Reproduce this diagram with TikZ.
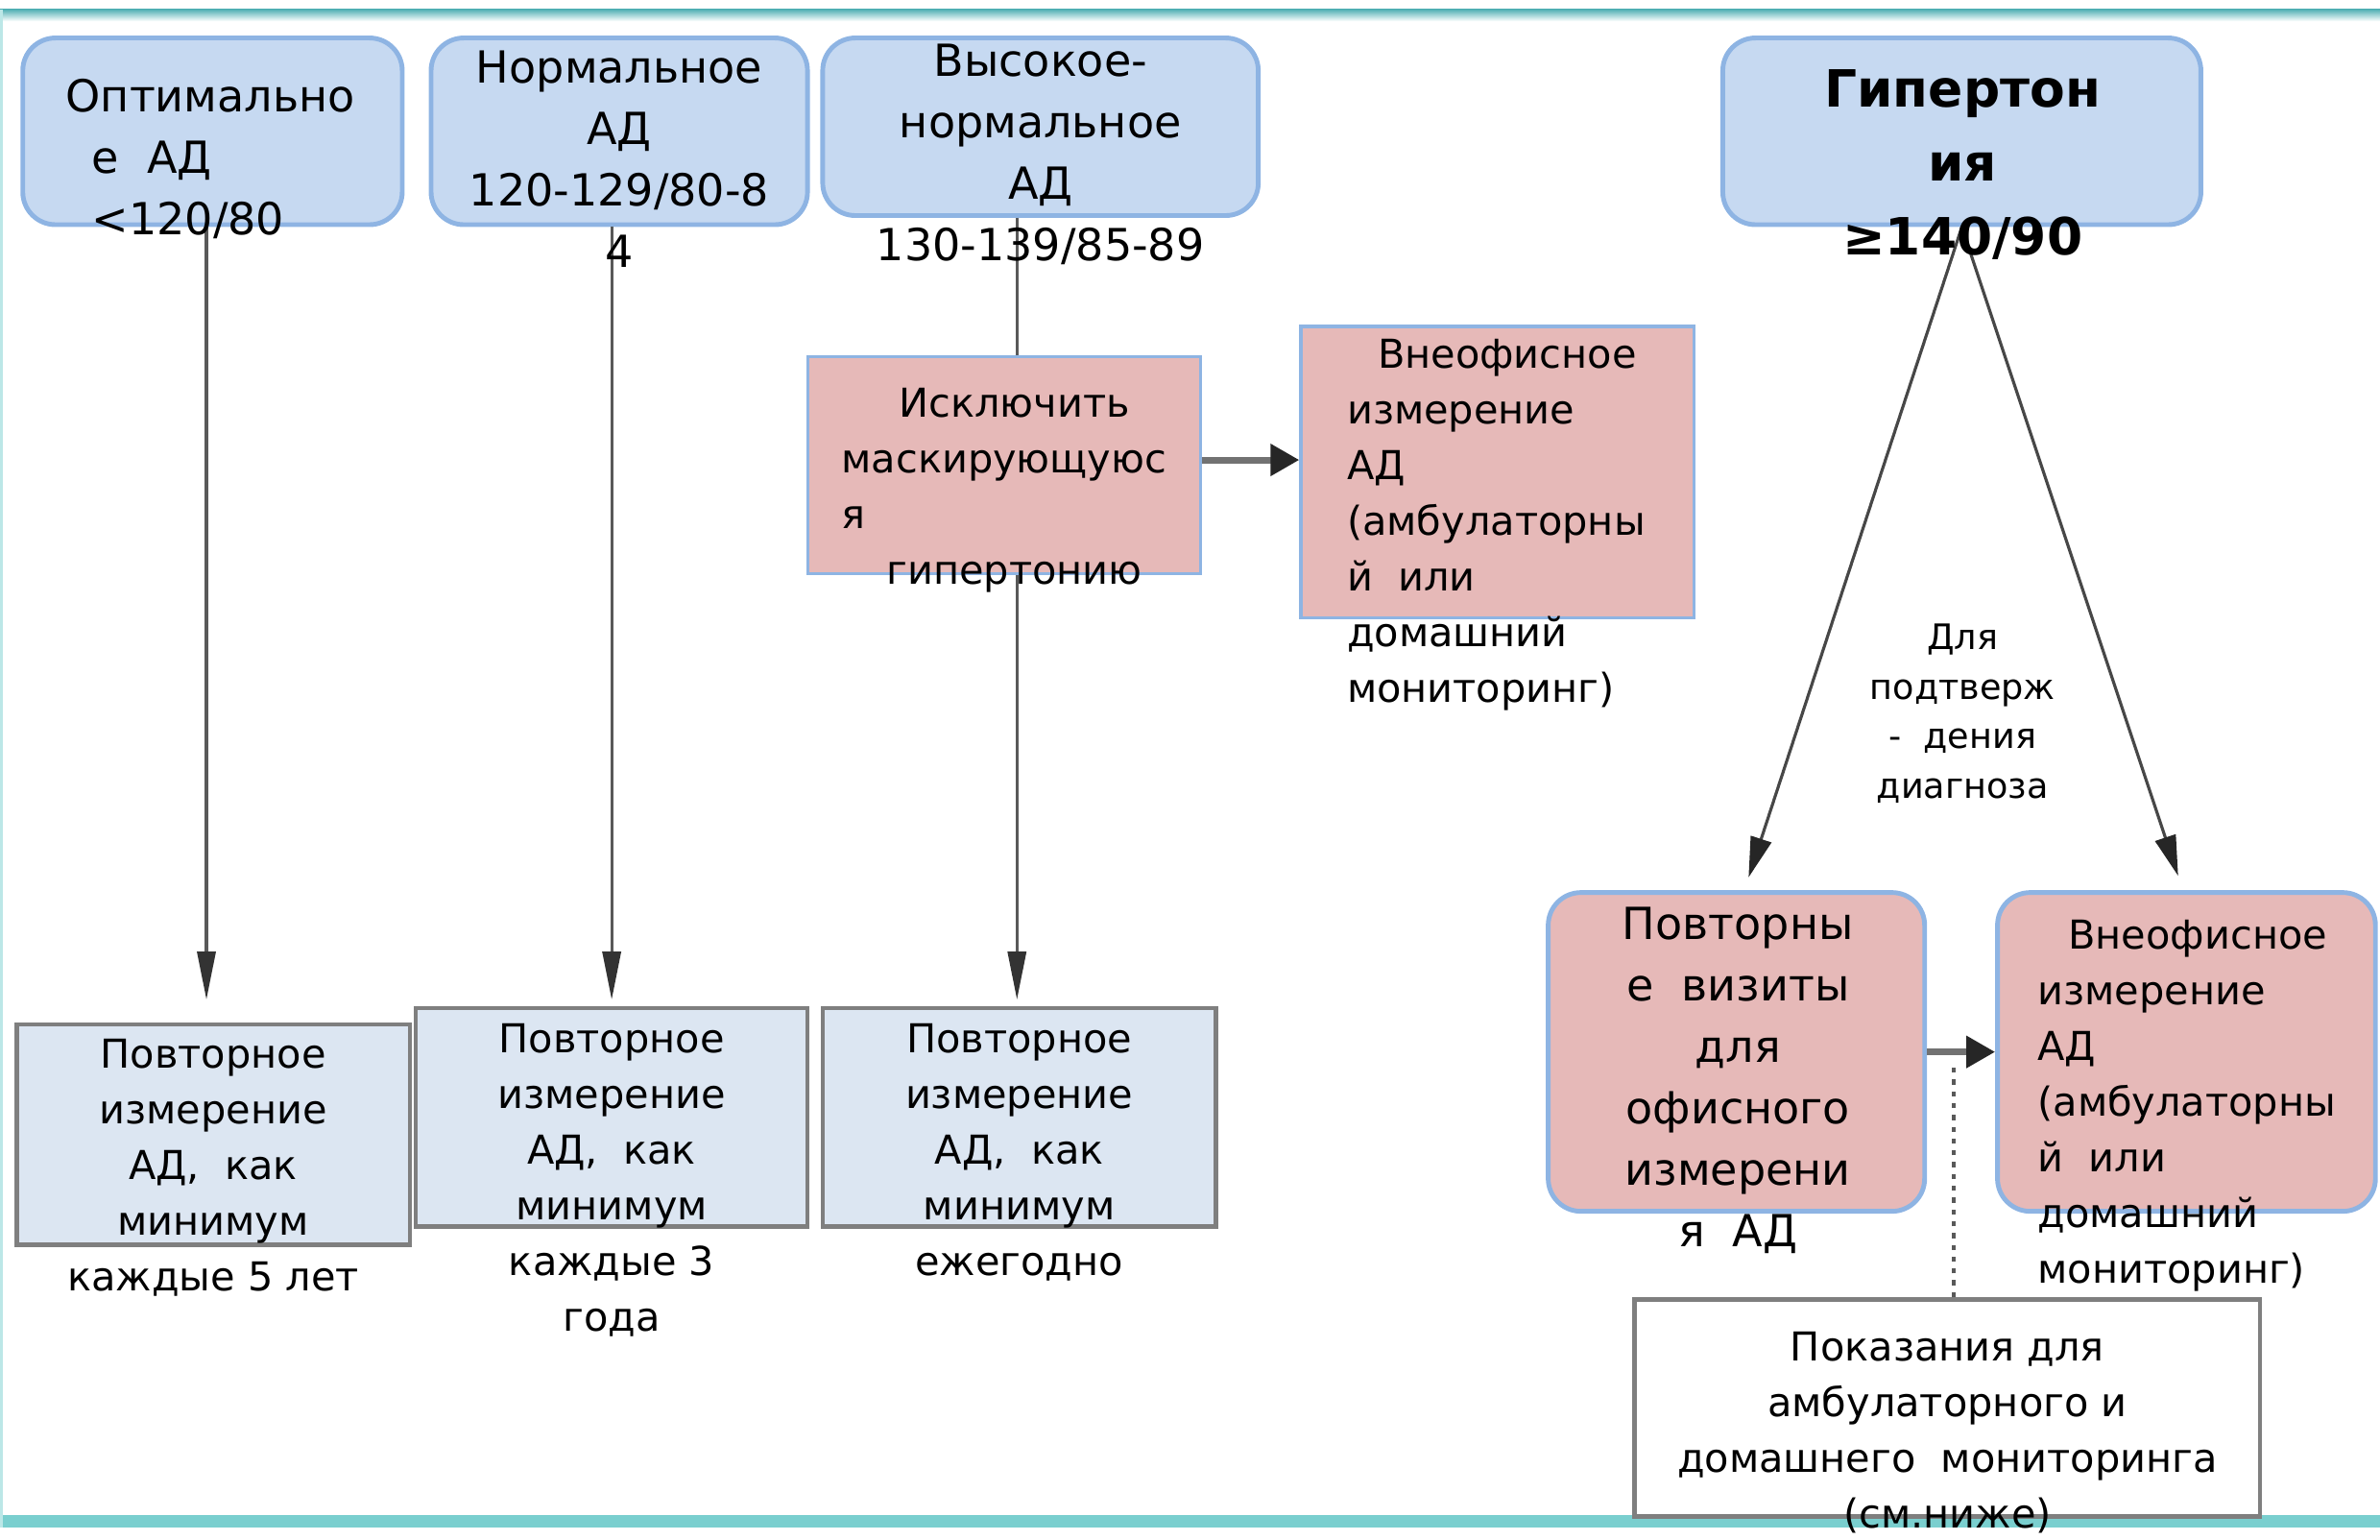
\documentclass[tikz,border=0pt]{standalone}
\usepackage{fontspec}
\setmainfont{DejaVu Sans}
\usetikzlibrary{arrows.meta}

\definecolor{azulRelleno}{HTML}{C6D9F1}
\definecolor{azulBorde}{HTML}{8EB4E3}
\definecolor{rosaRelleno}{HTML}{E6B9B8}
\definecolor{grisRelleno}{HTML}{DCE6F2}
\definecolor{grisBorde}{HTML}{7F7F7F}
\definecolor{grisLinea}{HTML}{595959}
\definecolor{tealOscuro}{HTML}{4FAFB3}
\definecolor{tealClaro}{HTML}{7ACFCF}

\newcommand{\px}{0.01581cm}

\tikzset{
  cajaazul/.style={draw=azulBorde, line width=1.4pt, fill=azulRelleno, rounded corners=0.34cm},
  cajarosa/.style={draw=azulBorde, line width=1.4pt, fill=rosaRelleno, rounded corners=0.34cm},
  rectrosa/.style={draw=azulBorde, line width=0.9pt, fill=rosaRelleno},
  cajagris/.style={draw=grisBorde, line width=1.3pt, fill=grisRelleno},
  cajablanca/.style={draw=grisBorde, line width=1.3pt, fill=white},
  texto/.style={inner sep=0pt, align=center, font=\fontsize{11.8}{16.5}\selectfont},
  textogrande/.style={texto, font=\fontsize{13.1}{18.2}\selectfont},
  flecha/.style={draw=grisLinea, line width=0.9pt, -{Triangle[length=0.5cm, width=0.19cm, color=black!80]}},
  flechadiag/.style={draw=grisLinea!80!black, line width=0.9pt, -{Triangle[length=0.42cm, width=0.22cm, color=black!85]}},
  flechagruesa/.style={draw=grisLinea!85, line width=2pt, -{Triangle[length=0.3cm, width=0.32cm, color=black!85]}}
}

\begin{document}
\begin{tikzpicture}[x=\px, y=-\px]
    \useasboundingbox (0,0) rectangle (1568,1014);

    % Marco
    \fill[top color=tealOscuro, bottom color=white] (0,6) rectangle (1568,14);
    \fill[tealClaro] (0,998) rectangle (1568,1006);
    \fill[tealClaro!50] (0,6) rectangle (2,1006);

    % Categorias superiores
    \node[cajaazul, minimum width=250*\px, minimum height=123*\px] (opt) at (140,86.5) {};
    \node[cajaazul, minimum width=248*\px, minimum height=123*\px] (norm) at (408,86.5) {};
    \node[cajaazul, minimum width=287*\px, minimum height=117*\px] (alto) at (685.5,83.5) {};
    \node[cajaazul, minimum width=315*\px, minimum height=123*\px] (hiper) at (1292.5,86.5) {};

    % Cajas intermedias
    \node[rectrosa, minimum width=259*\px, minimum height=143*\px] (masc) at (661.5,306.5) {};
    \node[rectrosa, minimum width=259*\px, minimum height=192*\px] (fuera) at (986.5,311) {};

    % Cajas inferiores
    \node[cajagris, minimum width=259*\px, minimum height=145*\px] (rep5) at (140.5,747.5) {};
    \node[cajagris, minimum width=258*\px, minimum height=144*\px] (rep3) at (403,736) {};
    \node[cajagris, minimum width=259*\px, minimum height=144*\px] (rep1) at (671.5,736) {};

    % Rama de hipertension
    \node[cajarosa, minimum width=248*\px, minimum height=210*\px] (visita) at (1144,693) {};
    \node[cajarosa, minimum width=249*\px, minimum height=210*\px] (fuera2) at (1440.5,693) {};
    \node[cajablanca, minimum width=412*\px, minimum height=143*\px] (indic) at (1283,927.5) {};

    % Conectores
    \draw[flecha, shorten >=15*\px] (opt.south -| 136,0) -- (rep5.north -| 136,0);
    \draw[flecha, shorten >=4*\px] (norm.south -| rep3.north) -- (rep3.north);
    \draw[grisLinea, line width=0.9pt] (alto.south -| 670,0) -- (masc.north -| 670,0);
    \draw[flecha, shorten >=4*\px] (masc.south -| 670,0) -- (rep1.north -| 670,0);
    \draw[flechagruesa] (masc.east |- 0,303) -- (fuera.west |- 0,303);

    \coordinate (llegaVis) at (1152,578);
    \coordinate (llegaFue) at (1435,577);
    \draw[flechadiag] (hiper.south) -- (llegaVis);
    \draw[flechadiag] (hiper.south) -- (llegaFue);
    \draw[flechagruesa] (visita.east) -- (fuera2.west);
    \draw[grisLinea, line width=1pt, dash pattern=on 1.5pt off 2pt] (indic.north -| 1287,0) -- (1287,700);

    % Textos
    \node[textogrande, align=left, anchor=west] (optT) at (43,104.5)
        {Оптимально\\\hspace*{0.27cm}е~~АД\\\hspace*{0.27cm}<120/80};
    \node[textogrande] (normT) at (408,105) {Нормальное\\АД\\120-129/80-8\\4};
    \node[textogrande] (altoT) at (685.5,101.5) {Высокое-\\нормальное\\АД\\130-139/85-89};
    \node[texto, font=\bfseries\fontsize{15.2}{21.8}\selectfont] (hiperT) at (1293,108.5)
        {Гипертон\\ия\\≥140/90};

    \node[texto, align=left, anchor=west] (mascT) at (554,323)
        {\hspace*{0.6cm}Исключить\\маскирующуюс\\я\\\hspace*{0.47cm}гипертонию};
    \node[texto, align=left, anchor=west] (fueraT) at (887,345.5)
        {\hspace*{0.32cm}Внеофисное\\измерение\\АД\\(амбулаторны\\й~~или\\домашний\\мониторинг)};

    \node[texto] (rep5T) at (140.5,769.5) {Повторное\\измерение\\АД,~~как\\минимум\\каждые 5 лет};
    \node[texto] (rep3T) at (403,777.5) {Повторное\\измерение\\АД,~~как\\минимум\\каждые 3\\года};
    \node[texto] (rep1T) at (671.5,759) {Повторное\\измерение\\АД,~~как\\минимум\\ежегодно};

    \node[texto, font=\fontsize{10.4}{14.7}\selectfont] (confT) at (1293,470)
        {Для\\подтверж\\-~~дения\\диагноза};
    \node[textogrande] (visitaT) at (1145,711.5)
        {Повторны\\е~~визиты\\для\\офисного\\измерени\\я~~АД};
    \node[texto, align=left, anchor=west] (fuera2T) at (1342,728.5)
        {\hspace*{0.32cm}Внеофисное\\измерение\\АД\\(амбулаторны\\й~~или\\домашний\\мониторинг)};
    \node[texto] (indicT) at (1283,943.5)
        {Показания для\\амбулаторного и\\домашнего~~мониторинга\\(см.ниже)};
\end{tikzpicture}
\end{document}
